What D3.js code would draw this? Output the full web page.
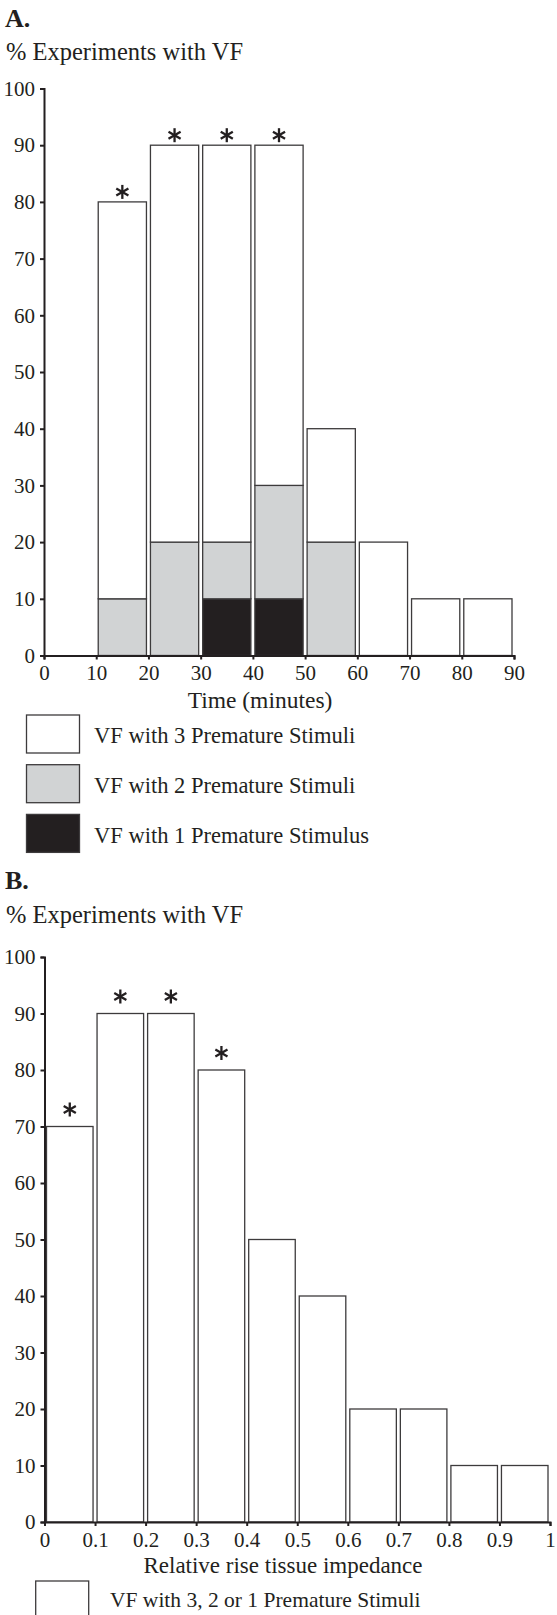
<!DOCTYPE html>
<html>
<head>
<meta charset="utf-8">
<script src="https://cdn.jsdelivr.net/npm/d3@7"></script>
<style>
  html, body { margin: 0; padding: 0; background: #fff; }
  svg { display: block; }
  text { font-family: "Liberation Serif", "Times New Roman", serif; fill: #231f20; }
</style>
</head>
<body>
<svg id="chart" width="557" height="1615"></svg>
<script>
// ---------- DATA ----------
// Panel A: bins of time (minutes), bin start values
const timeBinStart = [10, 20, 30, 40, 50, 60, 70, 80];
const vfOneStim   = [0, 0, 10, 10, 0, 0, 0, 0];     // VF with 1 premature stimulus
const vfTwoStim   = [10, 20, 10, 20, 20, 0, 0, 0];  // additional VF with 2 premature stimuli
const vfThreeStim = [70, 70, 70, 60, 20, 20, 10, 10]; // additional VF with 3 premature stimuli
const sigA = [true, true, true, true, false, false, false, false];
const xTicksA = [0, 10, 20, 30, 40, 50, 60, 70, 80, 90];
const yTicks = [0, 10, 20, 30, 40, 50, 60, 70, 80, 90, 100];
const legendA = ["VF with 3 Premature Stimuli", "VF with 2 Premature Stimuli", "VF with 1 Premature Stimulus"];

// Panel B: bins of relative rise in tissue impedance
const impBinStart = [0, 0.1, 0.2, 0.3, 0.4, 0.5, 0.6, 0.7, 0.8, 0.9];
const vfAny = [70, 90, 90, 80, 50, 40, 20, 20, 10, 10];
const sigB = [true, true, true, true, false, false, false, false, false, false];
const xTicksB = [0, 0.1, 0.2, 0.3, 0.4, 0.5, 0.6, 0.7, 0.8, 0.9, 1];
const legendB = ["VF with 3, 2 or 1 Premature Stimuli"];

// ---------- STYLE ----------
const ink = "#231f20";
const barStroke = "#3d3b3c";
const colWhite = "#ffffff", colGray = "#d1d3d4", colBlack = "#231f20";
const tickFont = "21px";

const svg = d3.select("#chart");

function asterisk(g, cx, cy, r) {
  const angles = [90, 30, -30];
  angles.forEach(a => {
    const rad = a * Math.PI / 180;
    g.append("line")
      .attr("x1", cx - r * Math.cos(rad)).attr("y1", cy - r * Math.sin(rad))
      .attr("x2", cx + r * Math.cos(rad)).attr("y2", cy + r * Math.sin(rad))
      .attr("stroke", ink).attr("stroke-width", 2.3).attr("stroke-linecap", "butt");
  });
}

function styleAxis(g) {
  g.selectAll("path.domain").attr("stroke", ink).attr("stroke-width", 2);
  g.selectAll(".tick line").attr("stroke", ink).attr("stroke-width", 2);
  g.selectAll(".tick text").style("font-family", "'Liberation Serif', serif").style("font-size", tickFont).attr("fill", ink);
}

// ---------- PANEL A ----------
{
  const x = d3.scaleLinear().domain([0, 90]).range([44, 514]);
  const y = d3.scaleLinear().domain([0, 100]).range([655.5, 88.5]);
  const binW = 10;
  const inset = 2;

  svg.append("text").attr("x", 5).attr("y", 27).style("font-size", "26px").style("font-weight", "bold").text("A.");
  svg.append("text").attr("x", 6).attr("y", 60).style("font-size", "24.5px").text("% Experiments with VF");

  const rows = timeBinStart.map((b, i) => ({ bin: b, one: vfOneStim[i], two: vfTwoStim[i], three: vfThreeStim[i] }));
  const stack = d3.stack().keys(["one", "two", "three"])(rows);
  const fills = { one: colBlack, two: colGray, three: colWhite };

  const gBars = svg.append("g");
  stack.forEach(layer => {
    gBars.selectAll(null).data(layer.filter(d => d[1] - d[0] > 0)).enter().append("rect")
      .attr("x", d => x(d.data.bin) + inset)
      .attr("width", d => x(d.data.bin + binW) - x(d.data.bin) - 2 * inset)
      .attr("y", d => y(d[1]))
      .attr("height", d => y(d[0]) - y(d[1]))
      .attr("fill", fills[layer.key])
      .attr("stroke", barStroke).attr("stroke-width", 1.3);
  });

  const gStar = svg.append("g");
  timeBinStart.forEach((b, i) => {
    if (!sigA[i]) return;
    const total = vfOneStim[i] + vfTwoStim[i] + vfThreeStim[i];
    asterisk(gStar, x(b + binW / 2), y(total) - 10, 7);
  });

  const gx = svg.append("g").attr("transform", `translate(0,${y(0)})`)
    .call(d3.axisBottom(x).tickValues(xTicksA).tickSize(4).tickPadding(6).tickFormat(d3.format("d")));
  styleAxis(gx);
  const gy = svg.append("g").attr("transform", `translate(${x(0)},0)`)
    .call(d3.axisLeft(y).tickValues(yTicks).tickSize(4).tickPadding(5).tickFormat(d3.format("d")));
  styleAxis(gy);

  svg.append("text").attr("x", 260).attr("y", 708).attr("text-anchor", "middle").style("font-size", "23.5px").text("Time (minutes)");

  // legend
  const lg = svg.append("g");
  const legFills = [colWhite, colGray, colBlack];
  legendA.forEach((t, i) => {
    lg.append("rect").attr("x", 26.5).attr("y", 715 + i * 49.7).attr("width", 53).attr("height", 38)
      .attr("fill", legFills[i]).attr("stroke", barStroke).attr("stroke-width", 1.3);
    lg.append("text").attr("x", 94).attr("y", 743 + i * 50).style("font-size", "22.5px").text(t);
  });
}

// ---------- PANEL B ----------
{
  const x = d3.scaleLinear().domain([0, 1]).range([44.5, 550]);
  const y = d3.scaleLinear().domain([0, 100]).range([1522, 957]);
  const binW = 0.1;
  const inset = 2;

  svg.append("text").attr("x", 5).attr("y", 889).style("font-size", "26px").style("font-weight", "bold").text("B.");
  svg.append("text").attr("x", 6).attr("y", 923).style("font-size", "24.5px").text("% Experiments with VF");

  const gBars = svg.append("g");
  gBars.selectAll(null).data(impBinStart).enter().append("rect")
    .attr("x", (d) => x(d) + inset)
    .attr("width", d => x(d + binW) - x(d) - 2 * inset)
    .attr("y", (d, i) => y(vfAny[i]))
    .attr("height", (d, i) => y(0) - y(vfAny[i]))
    .attr("fill", colWhite).attr("stroke", barStroke).attr("stroke-width", 1.3);

  const gStar = svg.append("g");
  impBinStart.forEach((b, i) => {
    if (!sigB[i]) return;
    asterisk(gStar, x(b + binW / 2), y(vfAny[i]) - 17, 7);
  });

  const gx = svg.append("g").attr("transform", `translate(0,${y(0)})`)
    .call(d3.axisBottom(x).tickValues(xTicksB).tickSize(4).tickPadding(6).tickFormat(d => d3.format("")(+d.toFixed(1))));
  styleAxis(gx);
  const gy = svg.append("g").attr("transform", `translate(${x(0)},0)`)
    .call(d3.axisLeft(y).tickValues(yTicks).tickSize(4).tickPadding(5).tickFormat(d3.format("d")));
  styleAxis(gy);

  svg.append("text").attr("x", 283).attr("y", 1573).attr("text-anchor", "middle").style("font-size", "23px").text("Relative rise tissue impedance");

  const lg = svg.append("g");
  legendB.forEach((t, i) => {
    lg.append("rect").attr("x", 35.7).attr("y", 1581).attr("width", 53).attr("height", 38)
      .attr("fill", colWhite).attr("stroke", barStroke).attr("stroke-width", 1.3);
    lg.append("text").attr("x", 110).attr("y", 1606.5).style("font-size", "21.5px").text(t);
  });
}
</script>
</body>
</html>
